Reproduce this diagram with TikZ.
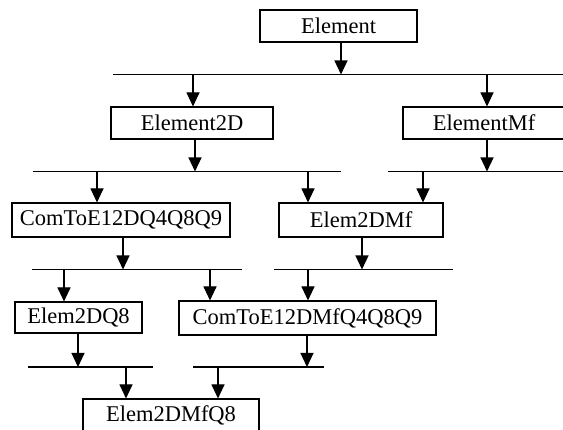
\documentclass[tikz,border=0pt]{standalone}
\usepackage{fontspec}
\setmainfont{Liberation Serif}
\usetikzlibrary{arrows.meta}
\tikzset{
  box/.style={draw, line width=1.1pt, inner sep=0pt, minimum height=32pt, font=\fontsize{22.5}{26}\selectfont},
  bar/.style={line width=1.1pt},
  arr/.style={line width=1.1pt, -{Triangle[width=13pt,length=14pt]}}
}
\begin{document}
\begin{tikzpicture}[x=1pt,y=-1pt]
\clip (0,0) rectangle (563,430);
\fill[white] (0,0) rectangle (563,430);
% boxes
\node[box, minimum width=157pt] (E) at (338.5,26) {Element};
\node[box, minimum width=162pt] (E2D) at (192,123) {Element2D};
\node[box, minimum width=162pt] (EMf) at (484,123) {ElementMf};
\node[box, minimum width=218pt, minimum height=34pt] (C1) at (121,220) {ComToE12DQ4Q8Q9};
\node[box, minimum width=164pt, minimum height=34pt] (EM) at (361,220) {Elem2DMf};
\node[box, minimum width=127pt, minimum height=31pt] (Q8) at (78.5,317.5) {Elem2DQ8};
\node[box, minimum width=257pt, minimum height=34pt] (C2) at (307.5,318) {ComToE12DMfQ4Q8Q9};
\node[box, minimum width=176pt] (F) at (171,415) {Elem2DMfQ8};
% bars
\coordinate (L1a) at (113,74.5);  \coordinate (L1b) at (570,74.5);
\coordinate (L2a) at (33,171.5);  \coordinate (L2b) at (341,171.5);
\coordinate (L2c) at (388,171.5); \coordinate (L2d) at (570,171.5);
\coordinate (L3a) at (32,269.5);  \coordinate (L3b) at (242,269.5);
\coordinate (L3c) at (274,269.5); \coordinate (L3d) at (453,269.5);
\coordinate (L4a) at (28,367);    \coordinate (L4b) at (153,367);
\coordinate (L4c) at (193,367);   \coordinate (L4d) at (324,367);
\draw[bar] (L1a) -- (L1b);
\draw[bar] (L2a) -- (L2b);
\draw[bar] (L2c) -- (L2d);
\draw[bar] (L3a) -- (L3b);
\draw[bar] (L3c) -- (L3d);
\draw[bar] (L4a) -- (L4b);
\draw[bar] (L4c) -- (L4d);
% arrows
\draw[arr] (E.south -| 341,0) -- (L1a -| 341,0);
\draw[arr] (L1a -| 193,0) -- (E2D.north -| 193,0);
\draw[arr] (L1a -| 487,0) -- (EMf.north -| 487,0);
\draw[arr] (E2D.south -| 195,0) -- (L2a -| 195,0);
\draw[arr] (EMf.south -| 487,0) -- (L2c -| 487,0);
\draw[arr] (L2a -| 97,0) -- (C1.north -| 97,0);
\draw[arr] (L2a -| 308,0) -- (EM.north -| 308,0);
\draw[arr] (L2c -| 423,0) -- (EM.north -| 423,0);
\draw[arr] (C1.south -| 123,0) -- (L3a -| 123,0);
\draw[arr] (EM.south -| 362,0) -- (L3c -| 362,0);
\draw[arr] (L3a -| 64,0) -- (Q8.north -| 64,0);
\draw[arr] (L3a -| 210,0) -- (C2.north -| 210,0);
\draw[arr] (L3c -| 308,0) -- (C2.north -| 308,0);
\draw[arr] (Q8.south -| 78,0) -- (L4a -| 78,0);
\draw[arr] (C2.south -| 307,0) -- (L4c -| 307,0);
\draw[arr] (L4a -| 126,0) -- (F.north -| 126,0);
\draw[arr] (L4c -| 218,0) -- (F.north -| 218,0);
\end{tikzpicture}
\end{document}
